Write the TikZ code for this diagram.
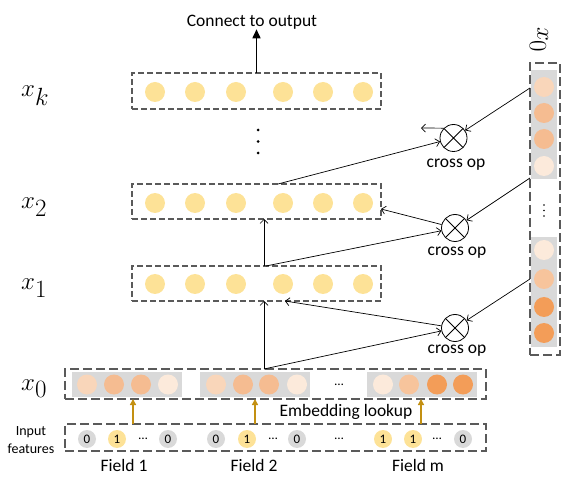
\documentclass[tikz,border=0pt]{standalone}
\usepackage{fontspec}
\setmainfont{Carlito}
\usetikzlibrary{arrows.meta}
\definecolor{yel}{HTML}{FDE297}
\definecolor{emA}{HTML}{F9D6BA}
\definecolor{emB}{HTML}{F5BC91}
\definecolor{emC}{HTML}{FCEADB}
\definecolor{emD}{HTML}{F7C49C}
\definecolor{emE}{HTML}{F39D58}
\definecolor{gbg}{HTML}{D9D9D9}
\definecolor{dashc}{HTML}{5A5A5A}
\definecolor{gold}{HTML}{C39012}
\tikzset{
  rowbox/.style={draw=dashc, line width=1.1pt, dash pattern=on 6pt off 3pt, inner sep=0pt, outer sep=0pt, rectangle},
  bigbox/.style={draw=dashc, line width=1.1pt, dash pattern=on 9pt off 4pt, inner sep=0pt, outer sep=0pt, rectangle},
  ydot/.style={circle, fill=yel, minimum size=20pt, inner sep=0pt},
  edot/.style={circle, fill=#1, minimum size=20pt, inner sep=0pt},
  idot/.style={circle, fill=#1, minimum size=18pt, inner sep=0pt, font=\fontsize{13}{13}\selectfont},
  mlab/.style={font=\fontsize{34}{34}\selectfont, inner sep=0pt, anchor=base west},
  lab/.style={font=\fontsize{17.5}{18}\selectfont, inner sep=0pt},
  cross/.style={circle, draw, line width=0.8pt, minimum size=27pt, inner sep=0pt,
    path picture={\draw[line width=0.8pt] (path picture bounding box.north west) -- (path picture bounding box.south east)
      (path picture bounding box.north east) -- (path picture bounding box.south west);}},
  arr/.style={line width=0.7pt, -{Straight Barb[length=4pt,width=8pt]}},
  garr/.style={gold, line width=1.4pt, -{Triangle[length=6pt,width=6pt]}},
}
\begin{document}
\begin{tikzpicture}[x=1pt,y=-1pt]
\useasboundingbox (0,0) rectangle (573,478);

% layer boxes
\node[rowbox, minimum width=249pt, minimum height=36pt] (bk) at (256.5,91) {};
\node[rowbox, minimum width=249pt, minimum height=35pt] (b2) at (256.5,201.5) {};
\node[rowbox, minimum width=249pt, minimum height=35pt] (b1) at (256.5,283.5) {};
\foreach \r/\yy in {k/92,t/203,o/284}{
  \foreach \xx [count=\i] in {155,195,236,283,323,363}{
    \node[ydot] (y\r\i) at (\xx,\yy) {};
  }
}

% output arrow
\node[lab] (out) at (252,22) {Connect to output};
\draw[line width=1.6pt, -{Triangle[length=9pt,width=8pt]}] (bk.north) -- (bk.north |- out.south);

% vertical dots
\foreach \yy [count=\i] in {130,141.5,153}{ \fill (258,\yy) circle (1.5pt) coordinate (vd\i); }

% left labels
\node[mlab] (lk) at (21,97) {$x_k$};
\node[mlab] (l2) at (21,209) {$x_2$};
\node[mlab] (l1) at (21,290) {$x_1$};
\node[mlab] (l0) at (21,390) {$x_0$};

% x0 embedding row
\node[bigbox, minimum width=421pt, minimum height=30pt] (b0) at (275.5,384) {};
\fill[gbg] (72,372) rectangle (182,397);
\fill[gbg] (200,372) rectangle (310,397);
\fill[gbg] (367,372) rectangle (477,397);
\foreach \xx/\cc [count=\i] in {87/emA,114/emB,141/emB,168/emC,216/emA,243/emB,269/emB,297/emC,383/emC,409/emD,437/emE,463/emE}{
  \node[edot=\cc] (e\i) at (\xx,384.5) {};
}
\node[lab, font=\fontsize{13}{13}\selectfont] (edots) at (339,385) {…};

% input row
\node[bigbox, minimum width=421pt, minimum height=27pt] (bin) at (275.5,437.5) {};
\foreach \xx/\cc/\tt [count=\i] in {87/gbg/0,117/yel/1,168/gbg/0,216/gbg/0,247/yel/1,297/gbg/0,383/yel/1,413/yel/1,463/gbg/0}{
  \node[idot=\cc] (in\i) at (\xx,439) {\tt};
}
\foreach \xx [count=\i] in {143,273,339,437}{
  \node[inner sep=0pt, font=\fontsize{13}{13}\selectfont] (id\i) at (\xx,439) {…};
}
\node[inner sep=0pt, align=center, font=\fontsize{14}{18}\selectfont] (inlab) at (31,440) {Input\\features};
\node[lab] (f1) at (124,465) {Field 1};
\node[lab] (f2) at (254,465) {Field 2};
\node[lab] (fm) at (418,465) {Field m};
\node[lab] (emb) at (346,412) {Embedding lookup};

% embedding lookup arrows
\foreach \xx [count=\i] in {133,255,421}{
  \coordinate (gs\i) at (\xx,424);
  \coordinate (ge\i) at (\xx,399);
  \draw[garr] (gs\i) -- (ge\i);
}

% right x0 column
\node[bigbox, minimum width=30pt, minimum height=292pt] (rc) at (545,209) {};
\fill[gbg] (531,70) rectangle (557,179);
\fill[gbg] (531,237) rectangle (557,347);
\foreach \yy/\cc [count=\i] in {87/emA,113/emB,139/emB,166/emC,250/emC,279/emD,307/emE,333/emE}{
  \node[edot=\cc] (r\i) at (544,\yy) {};
}
\foreach \yy [count=\i] in {205,210.5,216}{ \fill (544,\yy) circle (0.9pt) coordinate (rd\i); }
\node[font=\fontsize{34}{34}\selectfont, inner sep=0pt] (rl) at (539,40) {\rotatebox{-90}{$x_0$}};

% cross ops
\node[cross] (c1) at (453.5,138) {};
\node[cross] (c2) at (455,228) {};
\node[cross] (c3) at (455,328) {};
\node[lab] (cl1) at (456,165) {cross op};
\node[lab] (cl2) at (457,253) {cross op};
\node[lab] (cl3) at (457,351) {cross op};

% connectors
\coordinate (p1) at (530,88);
\coordinate (p2) at (530,178);
\coordinate (p3) at (530,279);
\draw[arr] (p1) -- (c1);
\draw[arr] (p2) -- (c2);
\draw[arr] (p3) -- (c3);

\coordinate (s2) at (278,184);
\coordinate (s1) at (266,266);
\coordinate (s0) at (264,369);
\draw[arr] (s2) -- (c1);
\draw[arr] (s1) -- (c2);
\draw[arr] (s0) -- (c3);

\draw[arr] (s0) -- (s0 |- b1.south);
\draw[arr] (264,266) coordinate (u1) -- (u1 |- b2.south);

\coordinate (o1) at (421,128);
\draw[arr] (c1.135) -- (o1);
\coordinate (o2) at (381,209);
\draw[arr] (c2) -- (o2);
\coordinate (o3) at (285,301);
\draw[arr] (c3) -- (o3);
\end{tikzpicture}
\end{document}
